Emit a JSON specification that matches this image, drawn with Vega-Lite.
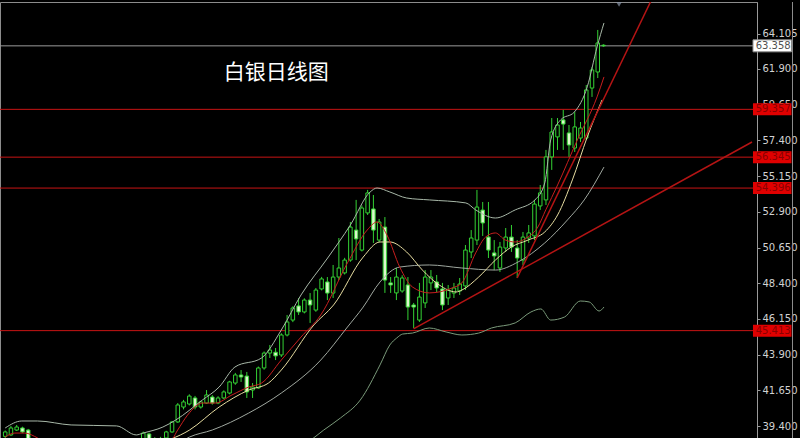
{
  "$schema": "https://vega.github.io/schema/vega-lite/v6.json",
  "width": 757,
  "height": 436,
  "autosize": {"type": "none"},
  "padding": {"left": 0, "top": 2, "right": 43, "bottom": 0},
  "background": "#000000",
  "config": {
    "view": {"stroke": "#8c8c8c", "strokeWidth": 1},
    "axisY": {"domainColor": "#9a9a9a", "tickColor": "#9a9a9a", "tickSize": 3, "labelColor": "#d2d2d2", "labelFontSize": 10, "labelFont": "DejaVu Sans", "labelPadding": 2, "grid": false}
  },
  "datasets": {
    "candles": [
      {"i":0,"o":38.75,"h":39.12,"l":38.62,"c":39.03},
      {"i":1,"o":38.84,"h":39.40,"l":38.78,"c":39.28},
      {"i":2,"o":39.15,"h":39.47,"l":39.09,"c":39.34},
      {"i":3,"o":39.28,"h":39.36,"l":38.96,"c":39.03},
      {"i":4,"o":39.15,"h":39.22,"l":38.45,"c":38.55},
      {"i":5,"o":38.55,"h":38.62,"l":38.20,"c":38.30},
      {"i":6,"o":38.30,"h":38.45,"l":38.00,"c":38.10},
      {"i":7,"o":38.10,"h":38.35,"l":37.95,"c":38.25},
      {"i":8,"o":38.25,"h":38.40,"l":37.90,"c":38.05},
      {"i":9,"o":38.05,"h":38.15,"l":37.70,"c":37.85},
      {"i":10,"o":37.85,"h":38.10,"l":37.75,"c":38.00},
      {"i":11,"o":38.00,"h":38.12,"l":37.65,"c":37.80},
      {"i":12,"o":37.80,"h":37.95,"l":37.55,"c":37.70},
      {"i":13,"o":37.70,"h":38.05,"l":37.60,"c":37.90},
      {"i":14,"o":37.90,"h":38.00,"l":37.60,"c":37.75},
      {"i":15,"o":37.75,"h":37.85,"l":37.45,"c":37.60},
      {"i":16,"o":37.60,"h":37.95,"l":37.50,"c":37.80},
      {"i":17,"o":37.80,"h":37.90,"l":37.50,"c":37.65},
      {"i":18,"o":37.65,"h":37.75,"l":37.35,"c":37.50},
      {"i":19,"o":37.50,"h":37.85,"l":37.40,"c":37.70},
      {"i":20,"o":37.70,"h":38.00,"l":37.60,"c":37.90},
      {"i":21,"o":37.90,"h":38.05,"l":37.70,"c":37.80},
      {"i":22,"o":37.80,"h":38.20,"l":37.75,"c":38.10},
      {"i":23,"o":38.10,"h":38.55,"l":38.00,"c":38.45},
      {"i":24,"o":38.50,"h":39.05,"l":38.40,"c":38.96},
      {"i":25,"o":38.90,"h":38.98,"l":38.50,"c":38.60},
      {"i":26,"o":38.60,"h":38.70,"l":38.35,"c":38.50},
      {"i":27,"o":38.50,"h":38.72,"l":38.40,"c":38.62},
      {"i":28,"o":38.65,"h":39.10,"l":38.58,"c":39.03},
      {"i":29,"o":39.03,"h":39.72,"l":38.98,"c":39.66},
      {"i":30,"o":39.66,"h":40.85,"l":39.60,"c":40.73},
      {"i":31,"o":40.60,"h":41.05,"l":40.45,"c":40.92},
      {"i":32,"o":40.79,"h":41.40,"l":40.70,"c":41.29},
      {"i":33,"o":41.17,"h":41.30,"l":40.45,"c":40.60},
      {"i":34,"o":40.60,"h":41.00,"l":40.50,"c":40.92},
      {"i":35,"o":40.85,"h":41.67,"l":40.80,"c":41.36},
      {"i":36,"o":41.23,"h":41.35,"l":40.75,"c":40.85},
      {"i":37,"o":40.85,"h":41.28,"l":40.78,"c":41.17},
      {"i":38,"o":41.17,"h":41.65,"l":41.10,"c":41.55},
      {"i":39,"o":41.48,"h":42.25,"l":41.40,"c":42.18},
      {"i":40,"o":42.11,"h":42.75,"l":42.00,"c":42.62},
      {"i":41,"o":42.62,"h":42.93,"l":42.18,"c":42.49},
      {"i":42,"o":42.55,"h":42.81,"l":41.17,"c":41.55},
      {"i":43,"o":41.67,"h":42.11,"l":41.17,"c":41.86},
      {"i":44,"o":41.80,"h":43.15,"l":41.75,"c":43.06},
      {"i":45,"o":43.06,"h":44.10,"l":42.95,"c":44.00},
      {"i":46,"o":44.00,"h":44.51,"l":43.69,"c":44.19},
      {"i":47,"o":44.05,"h":44.32,"l":43.56,"c":43.82},
      {"i":48,"o":43.88,"h":45.25,"l":43.75,"c":45.14},
      {"i":49,"o":45.14,"h":46.40,"l":45.05,"c":45.96},
      {"i":50,"o":46.08,"h":46.95,"l":45.95,"c":46.84},
      {"i":51,"o":46.97,"h":47.47,"l":46.40,"c":46.59},
      {"i":52,"o":46.59,"h":47.45,"l":46.50,"c":47.34},
      {"i":53,"o":47.34,"h":47.78,"l":45.90,"c":47.03},
      {"i":54,"o":46.71,"h":48.10,"l":46.60,"c":47.97},
      {"i":55,"o":48.04,"h":48.80,"l":47.95,"c":48.67},
      {"i":56,"o":48.48,"h":48.79,"l":47.34,"c":47.78},
      {"i":57,"o":47.78,"h":49.55,"l":47.47,"c":48.79},
      {"i":58,"o":48.79,"h":51.25,"l":48.60,"c":49.36},
      {"i":59,"o":49.05,"h":50.00,"l":48.95,"c":49.86},
      {"i":60,"o":49.86,"h":52.26,"l":49.75,"c":51.94},
      {"i":61,"o":51.75,"h":53.65,"l":49.86,"c":51.19},
      {"i":62,"o":50.49,"h":53.30,"l":50.40,"c":53.14},
      {"i":63,"o":52.83,"h":54.28,"l":52.70,"c":54.09},
      {"i":64,"o":53.08,"h":53.96,"l":50.94,"c":51.75},
      {"i":65,"o":51.12,"h":52.45,"l":51.00,"c":52.26},
      {"i":66,"o":51.94,"h":52.57,"l":47.79,"c":48.60},
      {"i":67,"o":48.42,"h":48.79,"l":47.79,"c":48.29},
      {"i":68,"o":47.79,"h":49.36,"l":47.34,"c":48.79},
      {"i":69,"o":47.91,"h":48.90,"l":47.80,"c":48.73},
      {"i":70,"o":48.29,"h":48.79,"l":46.08,"c":46.90},
      {"i":71,"o":47.03,"h":47.16,"l":45.58,"c":46.90},
      {"i":72,"o":46.08,"h":48.42,"l":45.96,"c":47.53},
      {"i":73,"o":47.16,"h":49.23,"l":46.84,"c":48.79},
      {"i":74,"o":48.42,"h":49.23,"l":47.97,"c":48.79},
      {"i":75,"o":48.48,"h":48.92,"l":47.85,"c":48.10},
      {"i":76,"o":48.04,"h":48.42,"l":46.71,"c":47.03},
      {"i":77,"o":47.47,"h":48.29,"l":47.03,"c":47.97},
      {"i":78,"o":47.78,"h":48.42,"l":47.47,"c":48.10},
      {"i":79,"o":47.91,"h":48.73,"l":47.66,"c":48.35},
      {"i":80,"o":48.23,"h":50.81,"l":47.97,"c":50.49},
      {"i":81,"o":50.37,"h":51.75,"l":49.99,"c":51.25},
      {"i":82,"o":51.12,"h":54.28,"l":50.81,"c":53.20},
      {"i":83,"o":53.01,"h":53.52,"l":51.38,"c":52.20},
      {"i":84,"o":51.31,"h":53.52,"l":49.99,"c":50.49},
      {"i":85,"o":50.31,"h":51.12,"l":49.23,"c":50.12},
      {"i":86,"o":49.36,"h":51.00,"l":49.11,"c":50.68},
      {"i":87,"o":50.62,"h":51.88,"l":50.37,"c":51.31},
      {"i":88,"o":51.31,"h":52.07,"l":50.37,"c":50.68},
      {"i":89,"o":50.62,"h":51.12,"l":48.73,"c":49.99},
      {"i":90,"o":49.86,"h":51.63,"l":49.55,"c":51.31},
      {"i":91,"o":51.25,"h":52.07,"l":50.94,"c":51.57},
      {"i":92,"o":51.38,"h":53.65,"l":51.12,"c":53.39},
      {"i":93,"o":53.27,"h":54.59,"l":53.02,"c":54.09},
      {"i":94,"o":53.65,"h":56.80,"l":53.33,"c":56.36},
      {"i":95,"o":56.36,"h":58.81,"l":55.54,"c":57.93},
      {"i":96,"o":57.62,"h":58.81,"l":56.80,"c":58.37},
      {"i":97,"o":58.69,"h":59.32,"l":56.80,"c":58.43},
      {"i":98,"o":57.87,"h":58.37,"l":56.36,"c":57.11},
      {"i":99,"o":56.92,"h":59.19,"l":56.67,"c":58.25},
      {"i":100,"o":57.55,"h":58.56,"l":57.30,"c":58.18},
      {"i":101,"o":57.55,"h":60.89,"l":57.43,"c":60.58},
      {"i":102,"o":60.70,"h":62.03,"l":60.14,"c":61.84},
      {"i":103,"o":61.71,"h":64.36,"l":61.33,"c":63.54},
      {"i":104,"o":63.40,"h":63.45,"l":63.30,"c":63.36}
    ],
    "upper": [
      {"i":0,"v":39.28},{"i":2.88,"v":39.72},{"i":5.63,"v":39.72},{"i":11.46,"v":39.47},{"i":19.35,"v":39.41},{"i":22.78,"v":38.84},{"i":23.98,"v":38.96},{"i":27.41,"v":39.34},{"i":29.64,"v":39.78},{"i":34.27,"v":41.04},{"i":37.19,"v":41.86},{"i":39.93,"v":43.12},{"i":44.56,"v":43.69},{"i":47.99,"v":45.45},{"i":51.42,"v":47.66},{"i":56.05,"v":49.99},{"i":60.0,"v":52.07},{"i":63.43,"v":54.15},{"i":64.63,"v":54.40},{"i":66.86,"v":54.15},{"i":69.78,"v":53.77},{"i":73.71,"v":53.65},{"i":80.07,"v":53.46},{"i":81.78,"v":53.02},{"i":85.21,"v":52.51},{"i":88.65,"v":53.02},{"i":92.08,"v":53.65},{"i":93.79,"v":54.72},{"i":94.82,"v":57.43},{"i":96.54,"v":58.69},{"i":98.94,"v":59.19},{"i":101.17,"v":60.77},{"i":102.88,"v":63.29},{"i":104.08,"v":64.80}
    ],
    "middle": [
      {"i":29.13,"v":38.08},{"i":32.04,"v":38.71},{"i":35.99,"v":39.15},{"i":42.33,"v":40.22},{"i":47.99,"v":41.48},{"i":54.85,"v":43.56},{"i":59.49,"v":45.64},{"i":62.23,"v":46.90},{"i":65.15,"v":48.48},{"i":68.58,"v":49.42},{"i":73.72,"v":49.55},{"i":79.38,"v":49.36},{"i":85.21,"v":49.23},{"i":89.16,"v":49.74},{"i":93.79,"v":50.94},{"i":97.74,"v":52.39},{"i":100.65,"v":53.65},{"i":104.08,"v":55.72}
    ],
    "lower": [
      {"i":53.14,"v":38.52},{"i":55.37,"v":39.15},{"i":58.28,"v":39.91},{"i":61.72,"v":41.04},{"i":65.15,"v":43.25},{"i":66.86,"v":44.51},{"i":68.06,"v":44.95},{"i":69.09,"v":45.20},{"i":70.80,"v":45.26},{"i":73.72,"v":45.58},{"i":76.64,"v":45.33},{"i":79.38,"v":45.14},{"i":82.30,"v":45.26},{"i":84.53,"v":45.58},{"i":88.65,"v":45.90},{"i":91.39,"v":46.59},{"i":93.11,"v":46.78},{"i":94.82,"v":46.08},{"i":97.22,"v":46.27},{"i":99.97,"v":47.28},{"i":101.51,"v":47.22},{"i":103.23,"v":46.65},{"i":104.08,"v":46.90}
    ],
    "ma10": [
      {"i":25.69,"v":38.21},{"i":32.04,"v":39.15},{"i":37.19,"v":40.60},{"i":42.33,"v":41.67},{"i":45.76,"v":42.11},{"i":47.99,"v":42.93},{"i":53.65,"v":45.77},{"i":57.08,"v":47.03},{"i":62.23,"v":50.05},{"i":65.15,"v":51.00},{"i":66.86,"v":51.00},{"i":69.78,"v":50.37},{"i":72.52,"v":49.23},{"i":75.44,"v":48.29},{"i":78.35,"v":47.85},{"i":79.38,"v":47.97},{"i":82.30,"v":48.79},{"i":85.21,"v":49.86},{"i":87.96,"v":50.68},{"i":90.88,"v":51.12},{"i":93.79,"v":51.63},{"i":96.02,"v":52.70},{"i":98.59,"v":54.91},{"i":101.17,"v":57.61},{"i":103.74,"v":59.95}
    ],
    "ma5": [
      {"i":0,"v":38.71},{"i":1.68,"v":38.96},{"i":3.40,"v":38.96},{"i":5.63,"v":38.65},{"i":7.68,"v":38.21},{"i":28.27,"v":38.21},{"i":29.98,"v":39.15},{"i":31.70,"v":40.09},{"i":34.27,"v":40.85},{"i":36.50,"v":40.85},{"i":39.42,"v":41.36},{"i":42.33,"v":41.86},{"i":44.56,"v":42.11},{"i":47.99,"v":43.56},{"i":51.42,"v":45.01},{"i":54.85,"v":46.40},{"i":59.49,"v":49.68},{"i":62.92,"v":51.75},{"i":64.63,"v":52.26},{"i":66.35,"v":51.44},{"i":68.58,"v":49.42},{"i":70.80,"v":48.16},{"i":73.72,"v":47.79},{"i":77.67,"v":48.10},{"i":79.38,"v":48.42},{"i":81.78,"v":50.31},{"i":83.50,"v":51.31},{"i":85.21,"v":51.57},{"i":86.93,"v":51.12},{"i":88.65,"v":51.00},{"i":90.88,"v":51.31},{"i":92.59,"v":51.94},{"i":93.96,"v":53.02},{"i":96.02,"v":54.59},{"i":99.45,"v":57.43},{"i":102.88,"v":60.14},{"i":104.08,"v":61.40}
    ],
    "trendLong": [{"i":70.98,"v":45.52},{"i":129.81,"v":57.30}],
    "trendSteep": [{"i":88.99,"v":48.73},{"i":113.17,"v":66.88}],
    "levels": [
      {"value":59.357,"label":"59.357"},
      {"value":56.345,"label":"56.345"},
      {"value":54.396,"label":"54.396"},
      {"value":45.413,"label":"45.413"}
    ],
    "last": [{"value":63.358,"label":"63.358"}],
    "title": [{"text":"白银日线图"}],
    "marker": [{"i":106.7,"v":66.0}]
  },
  "layer": [
    {
      "data": {"name": "levels"},
      "mark": {"type": "rule", "color": "#c81414", "strokeWidth": 1},
      "encoding": {
        "y": {"field": "value", "type": "quantitative", "scale": {"domain": [38.648, 66.121], "nice": false, "zero": false}, "axis": {"orient": "right", "values": [39.4, 41.65, 43.9, 46.15, 48.4, 50.65, 52.9, 55.15, 57.4, 59.65, 61.9, 64.105], "format": ".3f", "title": null}}
      }
    },
    {
      "data": {"name": "last"},
      "mark": {"type": "rule", "color": "#9a9a9a", "strokeWidth": 1},
      "encoding": {
        "y": {"field": "value", "type": "quantitative", "scale": {"domain": [38.648, 66.121], "nice": false, "zero": false}, "axis": {"orient": "right", "values": [39.4, 41.65, 43.9, 46.15, 48.4, 50.65, 52.9, 55.15, 57.4, 59.65, 61.9, 64.105], "format": ".3f", "title": null}}
      }
    },
    {
      "data": {"name": "candles"},
      "mark": {"type": "rule", "color": "#34d234", "strokeWidth": 1, "clip": true},
      "encoding": {
        "x": {"field": "i", "type": "quantitative", "scale": {"domain": [-0.034, 129.81], "nice": false, "zero": false}, "axis": null},
        "y": {"field": "l", "type": "quantitative", "scale": {"domain": [38.648, 66.121], "nice": false, "zero": false}, "axis": {"orient": "right", "values": [39.4, 41.65, 43.9, 46.15, 48.4, 50.65, 52.9, 55.15, 57.4, 59.65, 61.9, 64.105], "format": ".3f", "title": null}},
        "y2": {"field": "h"}
      }
    },
    {
      "data": {"name": "candles"},
      "mark": {"type": "bar", "width": 3.5, "stroke": "#34d234", "strokeWidth": 1, "clip": true},
      "encoding": {
        "x": {"field": "i", "type": "quantitative", "scale": {"domain": [-0.034, 129.81], "nice": false, "zero": false}, "axis": null},
        "y": {"field": "o", "type": "quantitative", "scale": {"domain": [38.648, 66.121], "nice": false, "zero": false}, "axis": {"orient": "right", "values": [39.4, 41.65, 43.9, 46.15, 48.4, 50.65, 52.9, 55.15, 57.4, 59.65, 61.9, 64.105], "format": ".3f", "title": null}},
        "y2": {"field": "c"},
        "fill": {"condition": {"test": "datum.c < datum.o", "value": "#dcf8cc"}, "value": "#000000"}
      }
    },
    {
      "data": {"name": "upper"},
      "mark": {"type": "line", "color": "#a8b8a8", "strokeWidth": 1, "interpolate": "monotone", "clip": true},
      "encoding": {
        "x": {"field": "i", "type": "quantitative", "scale": {"domain": [-0.034, 129.81], "nice": false, "zero": false}, "axis": null},
        "y": {"field": "v", "type": "quantitative", "scale": {"domain": [38.648, 66.121], "nice": false, "zero": false}, "axis": {"orient": "right", "values": [39.4, 41.65, 43.9, 46.15, 48.4, 50.65, 52.9, 55.15, 57.4, 59.65, 61.9, 64.105], "format": ".3f", "title": null}}
      }
    },
    {
      "data": {"name": "middle"},
      "mark": {"type": "line", "color": "#a0a8a0", "strokeWidth": 1, "interpolate": "monotone", "clip": true},
      "encoding": {
        "x": {"field": "i", "type": "quantitative", "scale": {"domain": [-0.034, 129.81], "nice": false, "zero": false}, "axis": null},
        "y": {"field": "v", "type": "quantitative", "scale": {"domain": [38.648, 66.121], "nice": false, "zero": false}, "axis": {"orient": "right", "values": [39.4, 41.65, 43.9, 46.15, 48.4, 50.65, 52.9, 55.15, 57.4, 59.65, 61.9, 64.105], "format": ".3f", "title": null}}
      }
    },
    {
      "data": {"name": "lower"},
      "mark": {"type": "line", "color": "#7a9a7a", "strokeWidth": 1, "interpolate": "monotone", "clip": true},
      "encoding": {
        "x": {"field": "i", "type": "quantitative", "scale": {"domain": [-0.034, 129.81], "nice": false, "zero": false}, "axis": null},
        "y": {"field": "v", "type": "quantitative", "scale": {"domain": [38.648, 66.121], "nice": false, "zero": false}, "axis": {"orient": "right", "values": [39.4, 41.65, 43.9, 46.15, 48.4, 50.65, 52.9, 55.15, 57.4, 59.65, 61.9, 64.105], "format": ".3f", "title": null}}
      }
    },
    {
      "data": {"name": "ma10"},
      "mark": {"type": "line", "color": "#e6dca0", "strokeWidth": 1, "interpolate": "monotone", "clip": true},
      "encoding": {
        "x": {"field": "i", "type": "quantitative", "scale": {"domain": [-0.034, 129.81], "nice": false, "zero": false}, "axis": null},
        "y": {"field": "v", "type": "quantitative", "scale": {"domain": [38.648, 66.121], "nice": false, "zero": false}, "axis": {"orient": "right", "values": [39.4, 41.65, 43.9, 46.15, 48.4, 50.65, 52.9, 55.15, 57.4, 59.65, 61.9, 64.105], "format": ".3f", "title": null}}
      }
    },
    {
      "data": {"name": "ma5"},
      "mark": {"type": "line", "color": "#c81e1e", "strokeWidth": 1, "interpolate": "monotone", "clip": true},
      "encoding": {
        "x": {"field": "i", "type": "quantitative", "scale": {"domain": [-0.034, 129.81], "nice": false, "zero": false}, "axis": null},
        "y": {"field": "v", "type": "quantitative", "scale": {"domain": [38.648, 66.121], "nice": false, "zero": false}, "axis": {"orient": "right", "values": [39.4, 41.65, 43.9, 46.15, 48.4, 50.65, 52.9, 55.15, 57.4, 59.65, 61.9, 64.105], "format": ".3f", "title": null}}
      }
    },
    {
      "data": {"name": "trendLong"},
      "mark": {"type": "line", "color": "#b41414", "strokeWidth": 1.5, "clip": true},
      "encoding": {
        "x": {"field": "i", "type": "quantitative", "scale": {"domain": [-0.034, 129.81], "nice": false, "zero": false}, "axis": null},
        "y": {"field": "v", "type": "quantitative", "scale": {"domain": [38.648, 66.121], "nice": false, "zero": false}, "axis": {"orient": "right", "values": [39.4, 41.65, 43.9, 46.15, 48.4, 50.65, 52.9, 55.15, 57.4, 59.65, 61.9, 64.105], "format": ".3f", "title": null}}
      }
    },
    {
      "data": {"name": "trendSteep"},
      "mark": {"type": "line", "color": "#b41414", "strokeWidth": 1.5, "clip": true},
      "encoding": {
        "x": {"field": "i", "type": "quantitative", "scale": {"domain": [-0.034, 129.81], "nice": false, "zero": false}, "axis": null},
        "y": {"field": "v", "type": "quantitative", "scale": {"domain": [38.648, 66.121], "nice": false, "zero": false}, "axis": {"orient": "right", "values": [39.4, 41.65, 43.9, 46.15, 48.4, 50.65, 52.9, 55.15, 57.4, 59.65, 61.9, 64.105], "format": ".3f", "title": null}}
      }
    },
    {
      "data": {"name": "marker"},
      "mark": {"type": "point", "shape": "triangle-down", "filled": true, "color": "#8a96a8", "size": 45, "clip": true},
      "encoding": {
        "x": {"field": "i", "type": "quantitative", "scale": {"domain": [-0.034, 129.81], "nice": false, "zero": false}, "axis": null},
        "y": {"field": "v", "type": "quantitative", "scale": {"domain": [38.648, 66.121], "nice": false, "zero": false}, "axis": {"orient": "right", "values": [39.4, 41.65, 43.9, 46.15, 48.4, 50.65, 52.9, 55.15, 57.4, 59.65, 61.9, 64.105], "format": ".3f", "title": null}}
      }
    },
    {
      "data": {"name": "levels"},
      "mark": {"type": "rect", "fill": "#e00000", "yOffset": -6, "y2Offset": 6},
      "encoding": {
        "x": {"datum": 129.98, "type": "quantitative", "scale": {"domain": [-0.034, 129.81], "nice": false, "zero": false}, "axis": null},
        "x2": {"datum": 136.67},
        "y": {"field": "value", "type": "quantitative", "scale": {"domain": [38.648, 66.121], "nice": false, "zero": false}, "axis": {"orient": "right", "values": [39.4, 41.65, 43.9, 46.15, 48.4, 50.65, 52.9, 55.15, 57.4, 59.65, 61.9, 64.105], "format": ".3f", "title": null}},
        "y2": {"field": "value"}
      }
    },
    {
      "data": {"name": "levels"},
      "mark": {"type": "text", "color": "#8a0000", "fontSize": 10, "font": "DejaVu Sans", "align": "left", "baseline": "middle"},
      "encoding": {
        "x": {"datum": 130.45, "type": "quantitative", "scale": {"domain": [-0.034, 129.81], "nice": false, "zero": false}, "axis": null},
        "y": {"field": "value", "type": "quantitative", "scale": {"domain": [38.648, 66.121], "nice": false, "zero": false}, "axis": {"orient": "right", "values": [39.4, 41.65, 43.9, 46.15, 48.4, 50.65, 52.9, 55.15, 57.4, 59.65, 61.9, 64.105], "format": ".3f", "title": null}},
        "text": {"field": "label"}
      }
    },
    {
      "data": {"name": "last"},
      "mark": {"type": "rect", "fill": "#ffffff", "stroke": "#8a8a8a", "strokeWidth": 1, "yOffset": -6, "y2Offset": 6},
      "encoding": {
        "x": {"datum": 129.98, "type": "quantitative", "scale": {"domain": [-0.034, 129.81], "nice": false, "zero": false}, "axis": null},
        "x2": {"datum": 136.67},
        "y": {"field": "value", "type": "quantitative", "scale": {"domain": [38.648, 66.121], "nice": false, "zero": false}, "axis": {"orient": "right", "values": [39.4, 41.65, 43.9, 46.15, 48.4, 50.65, 52.9, 55.15, 57.4, 59.65, 61.9, 64.105], "format": ".3f", "title": null}},
        "y2": {"field": "value"}
      }
    },
    {
      "data": {"name": "last"},
      "mark": {"type": "text", "color": "#505050", "fontSize": 10, "font": "DejaVu Sans", "align": "left", "baseline": "middle"},
      "encoding": {
        "x": {"datum": 130.45, "type": "quantitative", "scale": {"domain": [-0.034, 129.81], "nice": false, "zero": false}, "axis": null},
        "y": {"field": "value", "type": "quantitative", "scale": {"domain": [38.648, 66.121], "nice": false, "zero": false}, "axis": {"orient": "right", "values": [39.4, 41.65, 43.9, 46.15, 48.4, 50.65, 52.9, 55.15, 57.4, 59.65, 61.9, 64.105], "format": ".3f", "title": null}},
        "text": {"field": "label"}
      }
    },
    {
      "data": {"name": "title"},
      "mark": {"type": "text", "color": "#ffffff", "fontSize": 21, "font": "Noto Sans CJK SC", "align": "center", "baseline": "middle"},
      "encoding": {
        "x": {"datum": 47.1, "type": "quantitative", "scale": {"domain": [-0.034, 129.81], "nice": false, "zero": false}, "axis": null},
        "y": {"datum": 61.65, "type": "quantitative", "scale": {"domain": [38.648, 66.121], "nice": false, "zero": false}, "axis": {"orient": "right", "values": [39.4, 41.65, 43.9, 46.15, 48.4, 50.65, 52.9, 55.15, 57.4, 59.65, 61.9, 64.105], "format": ".3f", "title": null}},
        "text": {"field": "text"}
      }
    },
    {
      "data": {"values": [{}]},
      "mark": {"type": "rule", "color": "#8c8c8c", "strokeWidth": 1},
      "encoding": {
        "x": {"datum": 136.85, "type": "quantitative", "scale": {"domain": [-0.034, 129.81], "nice": false, "zero": false}, "axis": null}
      }
    }
  ]
}
